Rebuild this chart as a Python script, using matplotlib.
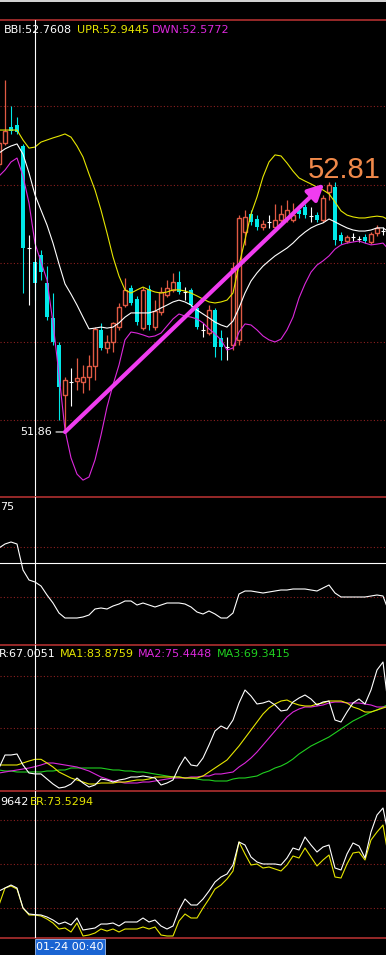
import numpy as np
import matplotlib.pyplot as plt
from matplotlib.patches import Rectangle

plt.rcParams['font.family'] = ['DejaVu Sans']

# ---------- main panel: 5-min candles ----------
opens = [52.880, 52.960, 53.022, 53.029, 52.949, 52.559, 52.506, 52.532, 52.425, 52.292,
         52.188, 51.997, 52.047, 52.051, 52.047, 52.066, 52.108, 52.246, 52.177, 52.200,
         52.257, 52.341, 52.406, 52.364, 52.253, 52.402, 52.257, 52.315, 52.380, 52.399,
         52.429, 52.391, 52.399, 52.330, 52.246, 52.234, 52.322, 52.215, 52.181, 52.188,
         52.208, 52.620, 52.689, 52.670, 52.639, 52.659, 52.639, 52.666, 52.674, 52.666,
         52.704, 52.716, 52.681, 52.685, 52.666, 52.773, 52.792, 52.609, 52.586, 52.601,
         52.594, 52.601, 52.582, 52.617, 52.624]
closes = [52.960, 53.006, 53.006, 53.002, 52.559, 52.559, 52.425, 52.467, 52.295, 52.200,
          52.028, 52.055, 52.047, 52.062, 52.066, 52.108, 52.250, 52.177, 52.200, 52.273,
          52.334, 52.399, 52.349, 52.276, 52.399, 52.265, 52.318, 52.391, 52.406, 52.429,
          52.391, 52.391, 52.341, 52.257, 52.246, 52.322, 52.181, 52.181, 52.181, 52.483,
          52.674, 52.678, 52.659, 52.639, 52.651, 52.659, 52.666, 52.689, 52.704, 52.685,
          52.689, 52.685, 52.681, 52.666, 52.750, 52.800, 52.590, 52.586, 52.601, 52.601,
          52.594, 52.586, 52.613, 52.636, 52.624]
highs = [52.972, 53.201, 53.102, 53.060, 52.957, 52.609, 52.521, 52.552, 52.490, 52.387,
         52.200, 52.066, 52.101, 52.139, 52.112, 52.150, 52.257, 52.273, 52.227, 52.276,
         52.349, 52.444, 52.418, 52.376, 52.410, 52.418, 52.360, 52.410, 52.437, 52.464,
         52.471, 52.410, 52.406, 52.349, 52.273, 52.341, 52.330, 52.246, 52.219, 52.506,
         52.685, 52.704, 52.704, 52.685, 52.666, 52.685, 52.727, 52.723, 52.743, 52.731,
         52.723, 52.727, 52.716, 52.697, 52.762, 52.811, 52.811, 52.620, 52.609, 52.617,
         52.605, 52.613, 52.620, 52.647, 52.639]
lows = [52.865, 52.953, 52.995, 52.995, 52.387, 52.341, 52.360, 52.437, 52.284, 52.188,
        51.902, 51.856, 51.955, 52.016, 52.005, 52.016, 52.055, 52.169, 52.158, 52.162,
        52.246, 52.334, 52.341, 52.265, 52.246, 52.246, 52.246, 52.303, 52.372, 52.391,
        52.383, 52.360, 52.334, 52.250, 52.219, 52.227, 52.143, 52.131, 52.131, 52.169,
        52.188, 52.571, 52.647, 52.628, 52.628, 52.636, 52.628, 52.659, 52.659, 52.659,
        52.674, 52.674, 52.659, 52.659, 52.659, 52.743, 52.571, 52.574, 52.578, 52.586,
        52.582, 52.578, 52.574, 52.605, 52.609]

bbi = [52.922, 52.938, 52.949, 52.957, 52.918, 52.846, 52.762, 52.704, 52.647, 52.578,
       52.498, 52.422, 52.383, 52.341, 52.295, 52.250, 52.253, 52.257, 52.253, 52.257,
       52.273, 52.295, 52.311, 52.311, 52.311, 52.311, 52.318, 52.330, 52.341, 52.353,
       52.360, 52.353, 52.341, 52.322, 52.307, 52.292, 52.276, 52.265, 52.257, 52.280,
       52.330, 52.387, 52.433, 52.464, 52.490, 52.510, 52.529, 52.544, 52.559, 52.578,
       52.601, 52.620, 52.636, 52.647, 52.655, 52.670, 52.659, 52.647, 52.636, 52.628,
       52.624, 52.624, 52.628, 52.636, 52.636, 52.620]
upr = [53.010, 53.010, 53.010, 53.010, 52.972, 52.941, 52.945, 52.964, 52.972, 52.980,
       52.987, 52.995, 52.983, 52.949, 52.907, 52.842, 52.781, 52.704, 52.617, 52.525,
       52.452, 52.399, 52.387, 52.399, 52.410, 52.399, 52.391, 52.387, 52.391, 52.399,
       52.399, 52.395, 52.387, 52.376, 52.364, 52.353, 52.349, 52.353, 52.360, 52.387,
       52.494, 52.590, 52.689, 52.754, 52.831, 52.888, 52.915, 52.911, 52.884, 52.853,
       52.827, 52.815, 52.804, 52.792, 52.781, 52.766, 52.735, 52.701, 52.685, 52.678,
       52.674, 52.674, 52.678, 52.681, 52.678, 52.666]
dwn = [52.834, 52.857, 52.888, 52.903, 52.834, 52.731, 52.577, 52.506, 52.437, 52.273,
       52.074, 51.864, 51.757, 51.695, 51.672, 51.684, 51.749, 51.844, 51.951, 52.036,
       52.112, 52.208, 52.238, 52.234, 52.227, 52.219, 52.223, 52.234, 52.261, 52.288,
       52.307, 52.299, 52.295, 52.288, 52.273, 52.250, 52.231, 52.208, 52.169, 52.177,
       52.238, 52.269, 52.265, 52.246, 52.223, 52.208, 52.200, 52.211, 52.246, 52.295,
       52.368, 52.422, 52.467, 52.494, 52.510, 52.529, 52.555, 52.571, 52.578, 52.582,
       52.586, 52.578, 52.571, 52.574, 52.578, 52.552]
price_grid = [51.9, 52.2, 52.5, 52.8, 53.1]
main_legend = ['BBI:52.7608', 'UPR:52.9445', 'DWN:52.5772']

# ---------- panel 2 ----------
p2 = [0.596, 0.612, 0.620, 0.612, 0.508, 0.468, 0.460, 0.444, 0.408, 0.376,
      0.336, 0.316, 0.316, 0.316, 0.320, 0.328, 0.352, 0.356, 0.352, 0.364,
      0.372, 0.384, 0.384, 0.368, 0.376, 0.368, 0.360, 0.368, 0.376, 0.376,
      0.376, 0.372, 0.360, 0.340, 0.332, 0.344, 0.332, 0.316, 0.316, 0.336,
      0.412, 0.424, 0.424, 0.420, 0.416, 0.420, 0.424, 0.428, 0.428, 0.432,
      0.432, 0.432, 0.428, 0.424, 0.436, 0.448, 0.416, 0.400, 0.400, 0.400,
      0.400, 0.400, 0.404, 0.408, 0.404, 0.340]
p2_grid = [0.4, 0.6]
p2_cursor = 0.536
p2_legend = '75'

# ---------- panel 3 ----------
r_line = [73.85, 88.85, 88.85, 90.00, 77.31, 68.08, 67.01, 67.01, 61.16, 55.39,
          50.77, 51.93, 55.39, 62.31, 56.54, 51.93, 54.23, 61.16, 60.00, 57.69,
          60.00, 61.16, 63.46, 63.46, 64.62, 63.46, 62.31, 54.23, 56.54, 60.00,
          75.00, 86.54, 77.31, 76.16, 85.39, 100.39, 116.54, 122.31, 118.85, 129.23,
          148.85, 163.84, 156.92, 147.69, 148.85, 151.15, 146.54, 139.61, 140.77, 150.00,
          154.61, 158.08, 153.46, 146.54, 150.00, 151.15, 129.23, 126.92, 138.46, 148.85,
          153.46, 147.69, 163.84, 186.92, 196.15, 138.46]
ma1 = [77.31, 77.31, 77.31, 77.31, 79.62, 81.92, 83.88, 83.88, 79.62, 75.00,
       69.23, 65.77, 62.31, 60.00, 57.69, 55.39, 55.39, 56.54, 56.54, 56.54,
       57.69, 57.69, 58.85, 60.00, 60.00, 61.16, 63.46, 63.46, 63.46, 63.46,
       63.46, 62.31, 62.31, 62.31, 64.62, 69.23, 73.85, 78.46, 83.08, 91.15,
       99.23, 108.46, 117.69, 126.92, 136.15, 143.08, 147.69, 151.15, 152.31, 148.85,
       146.54, 145.38, 145.38, 147.69, 148.85, 151.15, 151.15, 151.15, 148.85, 144.23,
       141.92, 138.46, 138.46, 140.77, 143.08, 145.38]
ma2 = [68.08, 69.23, 70.39, 71.54, 72.69, 73.85, 75.44, 77.31, 79.62, 79.62,
       78.46, 77.31, 76.16, 75.00, 72.69, 70.39, 66.92, 63.46, 61.16, 58.85,
       57.69, 56.54, 56.54, 56.54, 57.69, 57.69, 58.85, 60.00, 61.16, 62.31,
       62.31, 62.31, 63.46, 63.46, 64.62, 64.62, 66.92, 66.92, 68.08, 69.23,
       75.00, 79.62, 85.39, 92.31, 100.39, 108.46, 116.54, 124.62, 132.69, 138.46,
       141.92, 144.23, 144.23, 145.38, 146.54, 148.85, 150.00, 150.00, 148.85, 148.85,
       148.85, 147.69, 146.54, 144.23, 144.23, 144.23]
ma3 = [71.54, 70.39, 70.39, 69.23, 69.23, 69.23, 69.34, 69.23, 70.39, 70.39,
       71.54, 71.54, 73.85, 73.85, 73.85, 73.85, 73.85, 73.85, 72.69, 71.54,
       71.54, 70.39, 70.39, 69.23, 69.23, 68.08, 66.92, 65.77, 64.62, 63.46,
       63.46, 62.31, 62.31, 61.16, 60.00, 60.00, 58.85, 58.85, 58.85, 61.16,
       62.31, 62.31, 63.46, 64.62, 68.08, 70.39, 73.85, 76.16, 79.62, 84.23,
       90.00, 94.62, 99.23, 102.69, 106.15, 109.62, 114.23, 118.85, 123.46, 128.08,
       131.54, 135.00, 138.46, 140.77, 144.23, 147.69]
p3_grid = [120, 180]
p3_legend = ['R:67.0051', 'MA1:83.8759', 'MA2:75.4448', 'MA3:69.3415']

# ---------- panel 4 ----------
w_line = [95.45, 98.18, 100.91, 98.18, 80.00, 74.55, 73.96, 73.64, 71.82, 69.09,
          65.45, 67.27, 64.55, 70.91, 60.00, 60.91, 61.82, 65.45, 65.45, 66.36,
          63.64, 67.27, 67.27, 67.27, 70.91, 67.27, 69.09, 63.64, 60.91, 63.64,
          78.18, 88.18, 82.73, 82.73, 88.18, 95.45, 103.64, 108.18, 110.91, 119.09,
          140.00, 137.27, 126.36, 121.82, 120.00, 120.00, 120.00, 119.09, 125.45, 134.55,
          132.73, 144.55, 137.27, 130.91, 135.45, 137.27, 116.36, 114.55, 129.09, 139.09,
          136.36, 125.45, 149.09, 164.55, 170.91, 143.64]
er = [82.73, 98.18, 100.00, 97.27, 80.00, 73.64, 73.53, 72.73, 70.00, 66.36,
      60.91, 61.82, 58.18, 66.36, 54.55, 55.45, 57.27, 60.91, 59.09, 60.91,
      58.18, 60.91, 60.91, 60.91, 62.73, 60.91, 62.73, 55.45, 54.55, 54.55,
      68.18, 74.55, 70.91, 70.91, 80.00, 88.18, 97.27, 100.91, 106.36, 113.64,
      140.00, 129.09, 119.09, 120.00, 116.36, 117.27, 115.45, 113.64, 119.09, 127.27,
      125.45, 134.55, 126.36, 118.18, 123.64, 128.18, 108.18, 107.27, 120.00, 130.00,
      130.91, 123.64, 141.82, 149.09, 155.45, 123.64]
p4_grid = [80, 120, 160]
p4_legend = ['9642', 'ER:73.5294']

cursor = 6
date_label = '01-24 00:40'

RED = '#e05a44'
CYAN = '#00e8e8'
YEL = '#e6e600'
MAG = '#dc28dc'
GRN = '#20d020'
BORDER = '#b03030'
GRID = '#8c2020'

W, H = 386, 955
fig = plt.figure(figsize=(W / 100, H / 100), dpi=100, facecolor='black')


def panel(top, bottom, ylim, grid):
    ax = fig.add_axes([0, 1 - bottom / H, 1, (bottom - top) / H])
    ax.set_facecolor('black')
    ax.set_xlim(1 / 6, 64.5)
    ax.set_ylim(*ylim)
    ax.set_xticks([])
    ax.set_yticks([])
    for s in ax.spines.values():
        s.set_visible(False)
    ax.spines['top'].set_visible(True)
    ax.spines['top'].set_color(BORDER)
    ax.spines['top'].set_linewidth(1.2)
    for g in grid:
        ax.axhline(g, color=GRID, ls=(0, (1, 2)), lw=0.8, zorder=1)
    ax.axvline(cursor, color='white', lw=0.8, zorder=6)
    return ax


ax1 = panel(20, 497, (51.6075, 53.4306), price_grid)
ax2 = panel(497, 645, (0.208, 0.80), p2_grid)
ax3 = panel(645, 791, (47.31, 215.77), p3_grid)
ax4 = panel(791, 938, (52.73, 186.36), p4_grid)
ax4.spines['bottom'].set_visible(True)
ax4.spines['bottom'].set_color(BORDER)
ax4.spines['bottom'].set_linewidth(1.2)

# candles: red hollow = up, cyan filled = down, white cross = flat
for i in range(len(opens)):
    o, c, h, l = opens[i], closes[i], highs[i], lows[i]
    if c > o:
        ax1.vlines(i, l, h, color=RED, lw=0.9, zorder=2)
        ax1.bar(i, c - o, bottom=o, width=0.7, facecolor='black', edgecolor=RED, lw=1.0, zorder=3)
    elif c < o:
        ax1.vlines(i, l, h, color=CYAN, lw=0.8, zorder=2)
        ax1.bar(i, o - c, bottom=c, width=0.75, color=CYAN, lw=0, zorder=3)
    else:
        ax1.vlines(i, l, h, color='white', lw=0.8, zorder=2)
        ax1.hlines(o, i - 0.4, i + 0.4, color='white', lw=0.8, zorder=3)

xl = np.arange(len(bbi))
ax1.plot(xl, upr, color=YEL, lw=0.8, zorder=4)
ax1.plot(xl, bbi, color='white', lw=0.8, zorder=4)
ax1.plot(xl, dwn, color=MAG, lw=0.8, zorder=4)

lo_i = int(np.argmin(lows))
hi_i = 20 + int(np.argmax(highs[20:]))
ax1.annotate('', xy=(hi_i - 0.8, highs[hi_i] - 0.006), xytext=(lo_i, lows[lo_i]),
             arrowprops=dict(arrowstyle='-|>', color='#f03cf0', lw=3, mutation_scale=24,
                             shrinkA=0, shrinkB=0), zorder=5)
ax1.annotate(f'{lows[lo_i]:.2f}', xy=(lo_i, lows[lo_i]), xytext=(-9.5, 0),
             textcoords='offset points', ha='right', va='center', color='white', fontsize=8,
             arrowprops=dict(arrowstyle='-', color='white', lw=0.8, shrinkA=1, shrinkB=1))
ax1.text(51.5, 52.827, f'{highs[hi_i]:.2f}', color='#f0894a', fontsize=21,
         family='Liberation Sans', ha='left', va='baseline', zorder=6)

ax2.plot(xl, p2, color='white', lw=0.8, zorder=4)
ax2.axhline(p2_cursor, color='white', lw=0.8, zorder=5)

ax3.plot(xl, ma3, color=GRN, lw=0.8, zorder=3)
ax3.plot(xl, ma2, color=MAG, lw=0.8, zorder=3)
ax3.plot(xl, ma1, color=YEL, lw=0.8, zorder=4)
ax3.plot(xl, r_line, color='white', lw=0.8, zorder=4)

ax4.plot(xl, er, color=YEL, lw=0.8, zorder=3)
ax4.plot(xl, w_line, color='white', lw=0.8, zorder=4)


def label(xpx, ypx, s, color):
    fig.text(xpx / W, 1 - ypx / H, s, color=color, fontsize=8, ha='left', va='center')


for xp, s, col in zip([4, 77, 152], main_legend, ['white', YEL, MAG]):
    label(xp, 30, s, col)
label(0, 507, p2_legend, 'white')
for xp, s, col in zip([-1, 60, 138, 217], p3_legend, ['white', YEL, MAG, GRN]):
    label(xp, 654, s, col)
for xp, s, col in zip([0, 30], p4_legend, ['white', YEL]):
    label(xp, 802, s, col)

# top strip and date box
fig.patches.append(Rectangle((0, 1 - 2 / H), 1, 2 / H, transform=fig.transFigure,
                             facecolor='#d0d0d0', lw=0))
fig.patches.append(Rectangle((35 / W, 0), 70 / W, 16 / H, transform=fig.transFigure,
                             facecolor='#1a64d2', edgecolor='#9bbcf0', lw=0.6))
fig.text(70 / W, 8 / H, date_label, color='white', fontsize=8, ha='center', va='center')

fig.savefig('out.png', dpi=100, facecolor='black')
